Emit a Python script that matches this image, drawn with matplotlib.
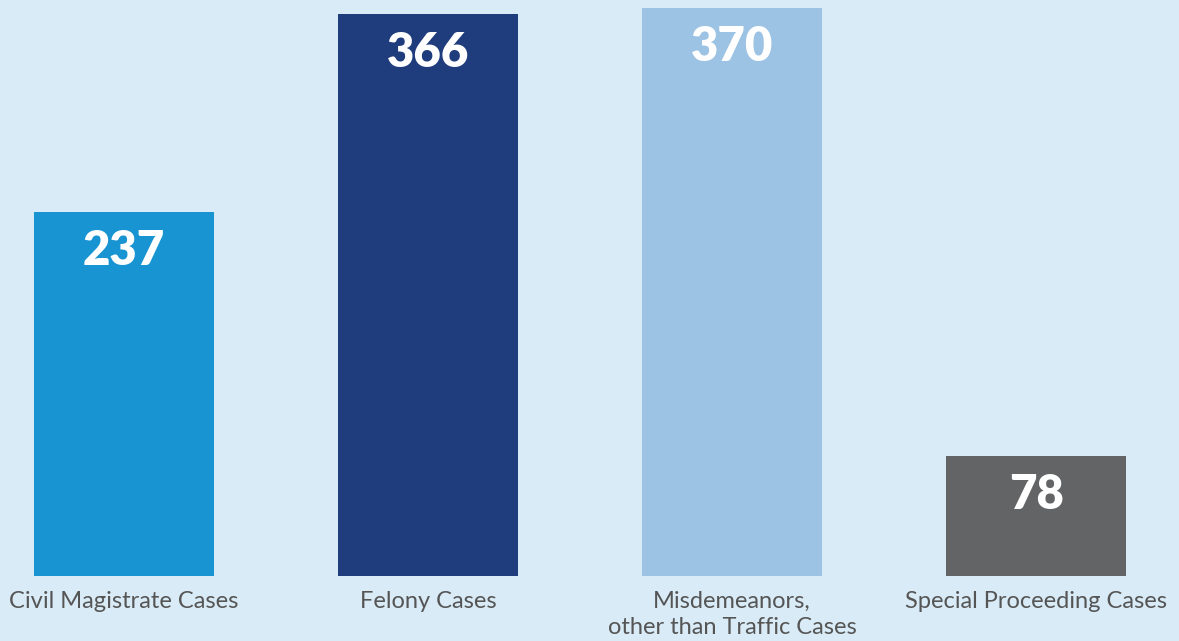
import matplotlib
matplotlib.use('Agg')
import matplotlib.pyplot as plt

# data
categories = ['Civil Magistrate Cases', 'Felony Cases',
              'Misdemeanors,\nother than Traffic Cases', 'Special Proceeding Cases']
values = [237, 366, 370, 78]
colors = ['#1894D2', '#1F3C7C', '#9DC3E4', '#636466']

bg = '#D9EBF6'
plt.rcParams['font.family'] = ['Lato', 'DejaVu Sans']

fig = plt.figure(figsize=(11.79, 6.41), dpi=100, facecolor=bg)
ax = fig.add_axes([0, 65 / 641, 1, 576 / 641])
ax.set_facecolor(bg)

x = range(len(values))
bars = ax.bar(x, values, width=0.592, color=colors)

ax.set_xlim(-0.408, 3.47)
ax.set_ylim(0, 375)

for xi, v in zip(x, values):
    ax.text(xi, v - 11, str(v), ha='center', va='top', color='white',
            fontsize=34, fontweight='heavy')

ax.set_xticks(list(x))
ax.set_xticklabels(categories, fontsize=17, color='#555555', linespacing=1.3)
ax.tick_params(axis='x', length=0, pad=11)
ax.set_yticks([])
for s in ax.spines.values():
    s.set_visible(False)

fig.savefig('out.png', dpi=100, facecolor=bg)
